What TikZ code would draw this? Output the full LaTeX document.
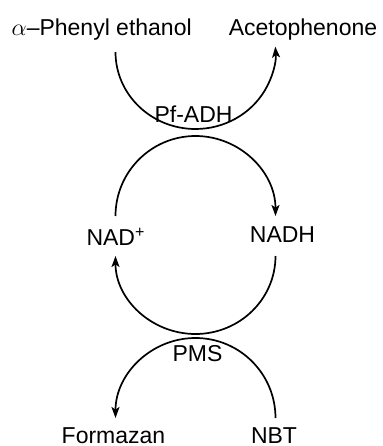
\documentclass[tikz,border=0pt]{standalone}
\usepackage{fontspec}
\setmainfont{Liberation Sans}
\usetikzlibrary{arrows.meta}

\begin{document}
\begin{tikzpicture}[x=0.5pt, y=0.5pt,
    chem/.style={anchor=base, inner sep=0pt, font=\fontsize{11.5}{13}\selectfont},
    cyc/.style={line width=0.85pt},
    tip/.style={cyc, -{Stealth[length=5.5pt, width=4pt, inset=1.3pt]}}]
  \useasboundingbox (0,0) rectangle (382,446);

  % substrates, cofactors and dyes
  \node[chem] (ethanol) at (101.7,411) {$\alpha$--Phenyl ethanol};
  \node[chem] (aceto)   at (303,411)   {Acetophenone};
  \node[chem] (adh)     at (193.5,323) {Pf-ADH};
  \node[chem] (nad)     at (116,200)   {NAD\textsuperscript{+}};
  \node[chem] (nadh)    at (282.5,204) {NADH};
  \node[chem] (pms)     at (197.5,84)  {PMS};
  \node[chem] (formazan) at (113.5,2.5) {Formazan};
  \node[chem] (nbt)     at (274,2.5)   {NBT};

  % where the arcs leave from
  \coordinate (ethanolS) at (115.5,394);
  \coordinate (nadS)     at (115.5,230);
  \coordinate (nadhS)    at (275.5,190);
  \coordinate (nbtS)     at (275.5,28);

  % alcohol oxidation
  \draw[tip] (ethanolS) arc[start angle=180, end angle=364, x radius=80, y radius=77];
  % cofactor cycle
  \draw[tip] (nadS) arc[start angle=180, end angle=0, radius=80];
  \draw[tip] (nadhS) arc[start angle=0, end angle=-180, x radius=80, y radius=78];
  % dye reduction
  \draw[tip] (nbtS) arc[start angle=0, end angle=180, radius=80];
\end{tikzpicture}
\end{document}
